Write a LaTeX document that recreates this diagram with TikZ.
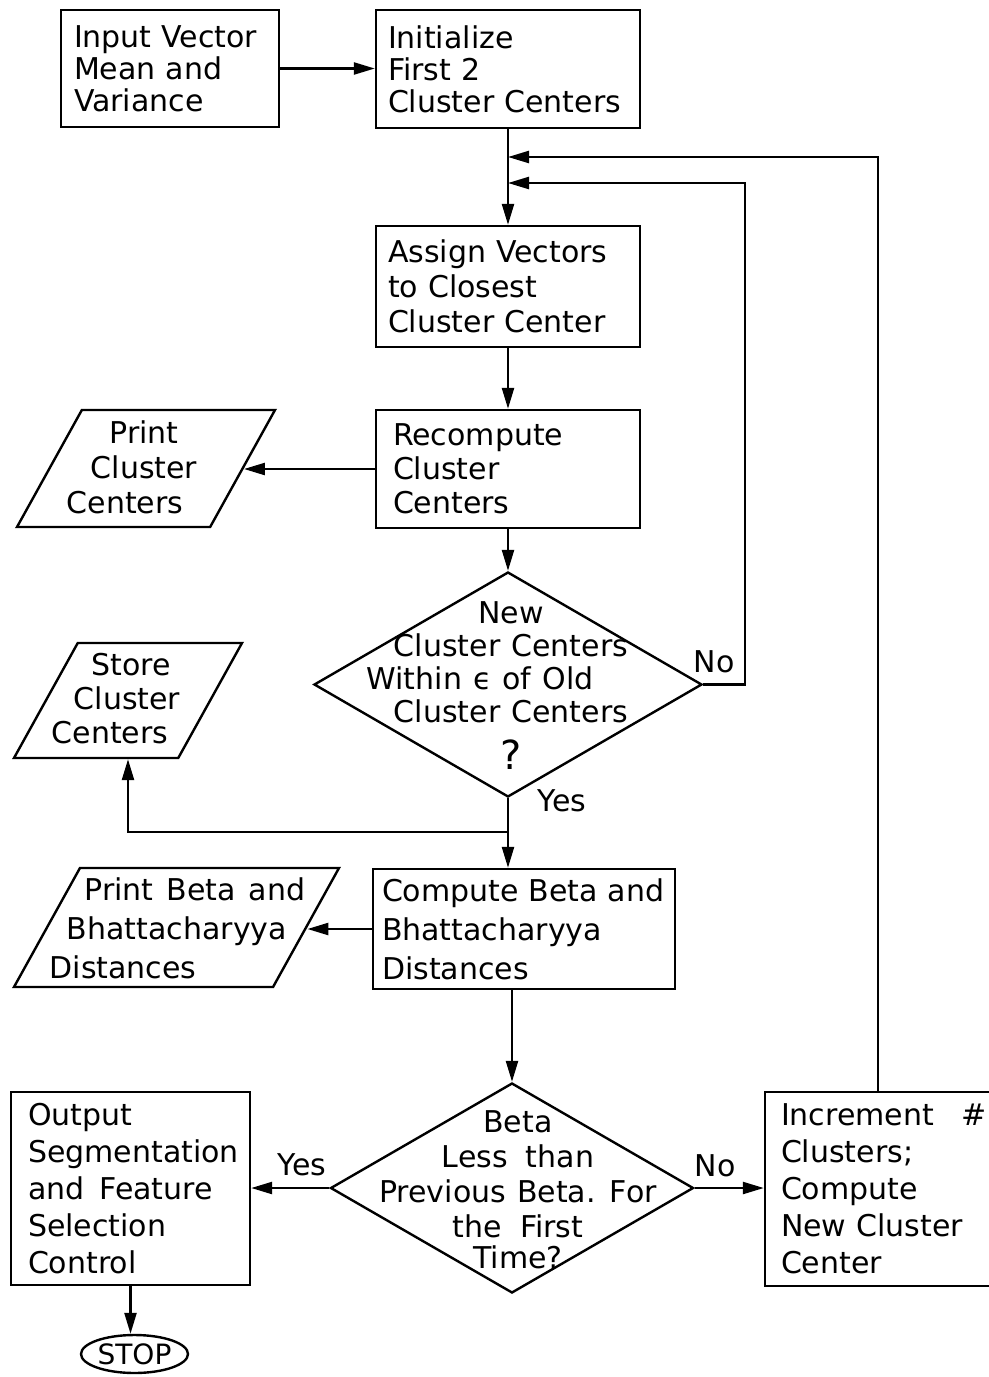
\documentclass[tikz,border=0pt]{standalone}
\usepackage{fontspec}
\setmainfont{DejaVu Sans}
\usetikzlibrary{arrows.meta,shapes.geometric}

\begin{document}
\begin{tikzpicture}[x=0.5pt,y=-0.5pt,
  line width=1.2pt,
  font={\fontsize{15pt}{17pt}\selectfont\spaceskip=6.5pt\relax},
  txt/.style={font={\fontsize{15pt}{#1}\selectfont\spaceskip=6.5pt\relax}},
  dtxt/.style={font={\fontsize{15pt}{#1}\selectfont\spaceskip=5.5pt\relax}},
  procbox/.style={draw, rectangle, align=left, inner ysep=0pt},
  iobox/.style={draw, trapezium, trapezium left angle=61, trapezium right angle=119,
                trapezium stretches body, inner sep=0pt},
  decision/.style={draw, diamond, inner sep=0pt},
  term/.style={draw, ellipse, inner sep=0pt},
  lbl/.style={inner sep=0pt},
  arr/.style={-{Triangle[length=10.5pt,width=6pt]}}
]
\useasboundingbox (0,0) rectangle (989,1377);

% process boxes
\node[procbox, txt=16pt, minimum width=109pt, minimum height=58.5pt,
      inner xsep=6.5pt, text width=96pt] (inp) at (170,68.5)
      {Input Vector\\Mean and\\Variance};
\node[procbox, txt=16pt, minimum width=132pt, minimum height=59pt,
      inner xsep=6pt, text width=120pt] (init) at (508,69)
      {Initialize\\First 2\\Cluster Centers};
\node[procbox, txt=17.5pt, minimum width=132pt, minimum height=60.5pt,
      inner xsep=6pt, text width=120pt] (assign) at (508,286.5)
      {Assign Vectors\\to Closest\\Cluster Center};
\node[procbox, txt=17pt, minimum width=132pt, minimum height=59pt,
      inner xsep=8.5pt, text width=115pt] (recomp) at (508,469)
      {Recompute\\Cluster\\Centers};
\node[procbox, font={\fontsize{15pt}{19.5pt}\selectfont}, minimum width=151pt, minimum height=60pt,
      inner xsep=4.5pt, text width=142pt] (compute) at (524,929)
      {\mbox{Compute Beta and}\\Bhattacharyya\\Distances};
\node[procbox, txt=18.5pt, minimum width=119.5pt, minimum height=96.5pt,
      inner xsep=8.5pt, text width=102.5pt] (output) at (130.5,1188.5)
      {Output\\\mbox{Segmentation}\\and\hspace{0.5em}Feature\\Selection\\Control};
\node[procbox, txt=18.5pt, minimum width=113pt, minimum height=97pt,
      inner xsep=8pt, text width=97pt] (incr) at (878,1189)
      {\mbox{Increment\hspace{14pt}\#}\\Clusters;\\Compute\\New Cluster\\Center};

% input/output parallelograms (the strut sets the height, the slant follows from it)
\node[iobox, minimum width=129pt] (p1) at (146,468.5) {\rule{0pt}{58.5pt}};
\node[txt=17.5pt, align=center] (p1t) at (144,467)
      {Print\\Cluster\\Centers\hspace*{19pt}};
\node[iobox, minimum width=114pt] (st) at (128,700.5) {\rule{0pt}{57.5pt}};
\node[txt=17pt, align=center] (stt) at (127,699)
      {\hspace*{4pt}Store\\Cluster\\Centers\hspace*{17pt}};
\node[iobox, minimum width=162.5pt] (p2) at (176.5,927.5) {\rule{0pt}{59.5pt}};
\node[txt=19.5pt, align=center] (p2t) at (177,928)
      {\hspace*{18pt}Print Beta and\\Bhattacharyya\\Distances\hspace*{54pt}};

% decisions
\node[decision, minimum width=194pt, minimum height=112.5pt] (d1) at (508,684.5) {};
\node[dtxt=16.5pt, align=center] (d1t) at (511,686)
      {New\\Cluster Centers\\\hspace*{-31pt}Within ϵ of Old\\Cluster Centers\\[7pt]%
       {\fontsize{20pt}{16.5pt}\selectfont ?}};
\node[decision, minimum width=181.5pt, minimum height=105pt] (d2) at (512,1188) {};
\node[dtxt=17.5pt, align=center] (d2t) at (518,1190)
      {Beta\\Less\hspace{0.6em}than\\Previous Beta. For\\the\hspace{0.6em}First\\[-2pt]Time?};

% terminal
\node[term, minimum width=53.5pt, minimum height=19pt,
      font=\fontsize{14pt}{16pt}\selectfont] (stop) at (134.5,1354) {STOP};

% branch labels
\node[lbl] (no1) at (714,662) {No};
\node[lbl] (yes1) at (562,801) {Yes};
\node[lbl] (yes2) at (302,1165) {Yes};
\node[lbl] (no2) at (715,1166) {No};

% junction points
\coordinate (fb1) at (508,157);
\coordinate (fb2) at (508,183);
\coordinate (loopx) at (745,684.5);
\coordinate (yj) at (508,832);

% connectors
\draw[arr] (inp.east) -- (inp.east -| init.west);
\draw[arr] (init.south) -- (assign.north);
\draw[arr] (incr.north) |- (fb1);
\draw[arr] (d1.east) -- (loopx) |- (fb2);
\draw[arr] (assign.south) -- (recomp.north);
\draw[arr] (recomp.west) -- (recomp.west -| p1.east);
\draw[arr] (recomp.south) -- (d1.north);
\draw[arr] (d1.south) -- (d1.south |- compute.north);
\draw[arr] (yj) -| (st.south);
\draw[arr] (compute.west) -- (compute.west -| p2.east);
\draw[arr] (d2.north |- compute.south) -- (d2.north);
\draw[arr] (d2.west) -- (d2.west -| output.east);
\draw[arr] (d2.east) -- (d2.east -| incr.west);
\draw[arr] (output.south) -- (output.south |- stop.north);
\end{tikzpicture}
\end{document}
